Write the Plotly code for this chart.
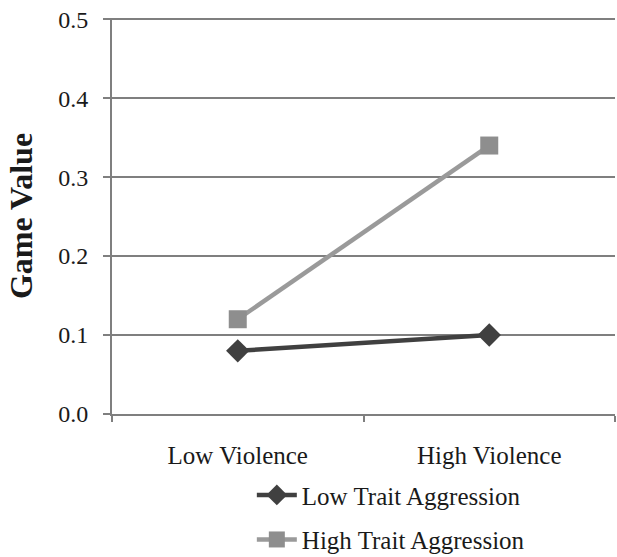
import plotly.graph_objects as go

categories = ["Low Violence", "High Violence"]
low_trait = [0.08, 0.10]
high_trait = [0.12, 0.34]
series_names = ["Low Trait Aggression", "High Trait Aggression"]
y_ticks = [0.0, 0.1, 0.2, 0.3, 0.4, 0.5]

fig = go.Figure()
fig.add_trace(go.Scatter(
    x=categories, y=low_trait, name=series_names[0], mode="lines+markers",
    line=dict(color="#404040", width=4.5),
    marker=dict(symbol="diamond", size=18, color="#404040"),
    legendgroup="a"))
fig.add_trace(go.Scatter(
    x=categories, y=high_trait, name=series_names[1], mode="lines+markers",
    line=dict(color="#9a9a9a", width=4.5),
    marker=dict(symbol="square", size=18, color="#8e8e8e"),
    legendgroup="b"))

font_family = "Liberation Serif"
fig.update_layout(
    width=617, height=557,
    margin=dict(l=112, r=2, t=18, b=143, autoexpand=False),
    paper_bgcolor="white", plot_bgcolor="white",
    font=dict(family=font_family, size=24, color="#1a1a1a"),
    showlegend=True,
    legend=dict(x=0.278, y=-0.147, xanchor="left", yanchor="top",
                orientation="v", font=dict(size=25, family=font_family),
                tracegroupgap=9, itemwidth=40, bgcolor="rgba(0,0,0,0)"),
    xaxis=dict(type="category", range=[-0.5, 1.5], showgrid=False,
               showline=True, linecolor="#7f7f7f", linewidth=2,
               ticks="outside", tickson="boundaries", ticklen=6,
               tickcolor="#7f7f7f", tickwidth=2, automargin=False,
               ticklabelstandoff=18, tickfont=dict(size=25)),
    yaxis=dict(range=[0, 0.5015], tickvals=y_ticks, tickformat=".1f",
               showgrid=True, gridcolor="#7f7f7f", gridwidth=2,
               showline=True, linecolor="#7f7f7f", linewidth=2,
               ticks="outside", ticklen=7, tickcolor="#7f7f7f", tickwidth=2,
               ticklabelstandoff=10, zeroline=False, automargin=False,
               ticklabeloverflow="allow",
               tickfont=dict(size=24),
               title=dict(text="<b>Game Value</b>", font=dict(size=32), standoff=16)),
)

fig.write_html("out.html", config={"displayModeBar": False},
               post_script="document.body.style.margin='0';")
